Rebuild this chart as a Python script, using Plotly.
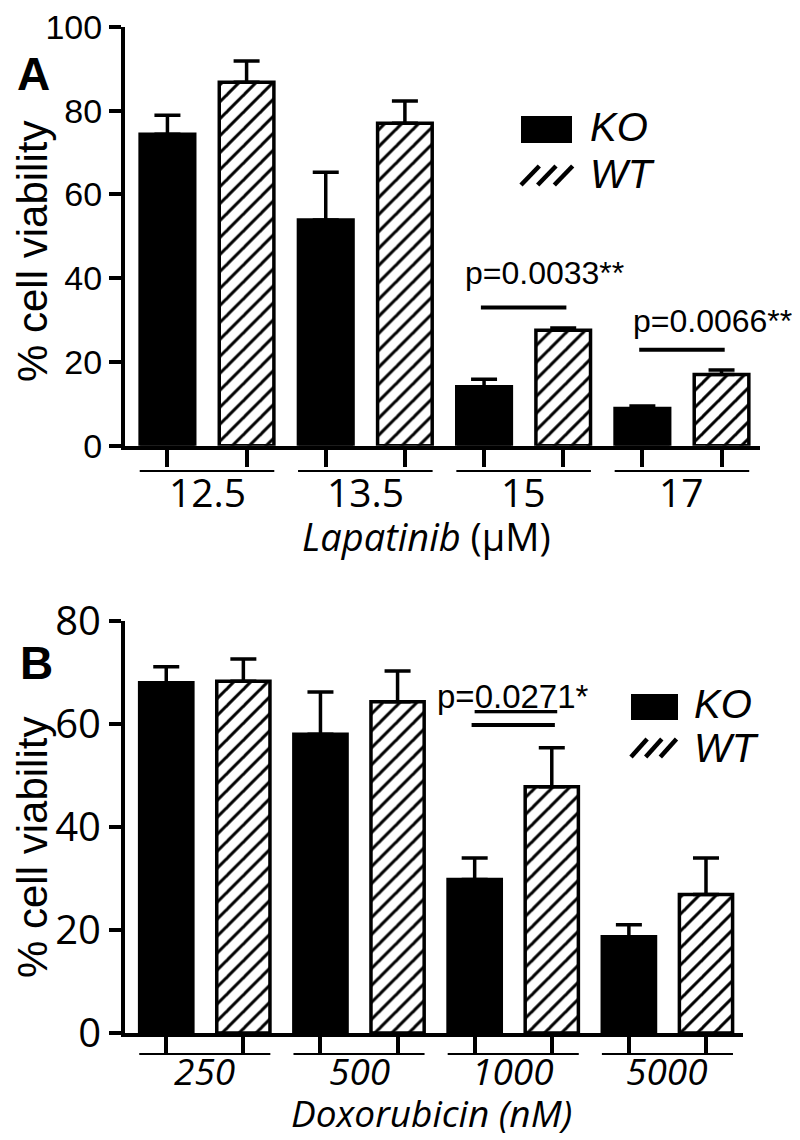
import plotly.graph_objects as go

# ---------------- data ----------------
lap_groups = ["12.5", "13.5", "15", "17"]
lap_ko = [74.4, 53.9, 14.1, 8.9]
lap_ko_err = [4.5, 11.4, 1.8, 0.6]
lap_wt = [86.8, 77.0, 27.6, 17.0]
lap_wt_err = [5.1, 5.3, 0.5, 1.1]

dox_groups = ["250", "500", "1000", "5000"]
dox_ko = [68.0, 58.0, 29.8, 18.7]
dox_ko_err = [3.1, 8.2, 4.2, 2.3]
dox_wt = [68.3, 64.3, 47.8, 26.9]
dox_wt_err = [4.3, 6.0, 7.6, 7.1]

series_names = ["KO", "WT"]

# p-value annotations: (group index, text, line height, text x offset, text height)
lap_pvals = [(2, "p=0.0033**", 33.0, 0.13, 41.3), (3, "p=0.0066**", 22.9, 0.19, 29.8)]
dox_pvals = [(2, "p=<u>0.027</u>1*", 59.8, 0.0, 65.3)]

W, H = 800, 1140


def px(x):
    return x / W


def py(y):
    return 1 - y / H


fig = go.Figure()

BAR_OFF = 0.25


def add_panel(n, groups, ko, koe, wt, wte):
    xa = "x" if n == 1 else f"x{n}"
    ya = "y" if n == 1 else f"y{n}"
    idx = list(range(len(groups)))
    fig.add_trace(go.Bar(
        x=idx, y=ko, name=series_names[0], xaxis=xa, yaxis=ya, showlegend=False,
        offsetgroup="ko",
        marker=dict(color="black", line=dict(color="black", width=3.5)),
        error_y=dict(type="data", array=koe, arrayminus=[0] * len(koe), symmetric=False,
                     color="black", thickness=3.5, width=13),
    ))
    fig.add_trace(go.Bar(
        x=idx, y=wt, name=series_names[1], xaxis=xa, yaxis=ya, showlegend=False,
        offsetgroup="wt",
        marker=dict(color="white", line=dict(color="black", width=3.5),
                    pattern=dict(shape="/", fgcolor="black", bgcolor="white",
                                 size=12, solidity=0.25, fillmode="replace")),
        error_y=dict(type="data", array=wte, arrayminus=[0] * len(wte), symmetric=False,
                     color="black", thickness=3.5, width=13),
    ))
    return idx


idx1 = add_panel(1, lap_groups, lap_ko, lap_ko_err, lap_wt, lap_wt_err)
idx2 = add_panel(2, dox_groups, dox_ko, dox_ko_err, dox_wt, dox_wt_err)

common_x = dict(showline=True, linewidth=4, linecolor="black", ticks="outside",
                tickwidth=4, tickcolor="black", showticklabels=False,
                showgrid=False, zeroline=False, automargin=False)
common_y = dict(showline=True, linewidth=4, linecolor="black", ticks="outside",
                ticklen=12, tickwidth=3.5, tickcolor="black", ticklabeloverflow="allow",
                showgrid=False, zeroline=False, automargin=False)

fig.update_layout(
    template="none",
    width=W, height=H, margin=dict(l=0, r=0, t=0, b=0, autoexpand=False),
    paper_bgcolor="white", plot_bgcolor="white",
    barmode="group", bargap=0, bargroupgap=0.31,
    xaxis=dict(domain=[px(117), px(752)], range=[-0.518, 3.493], anchor="y",
               tickvals=[i + d for i in idx1 for d in (-BAR_OFF, BAR_OFF)], ticklen=17, **common_x),
    yaxis=dict(domain=[py(437.7), py(19)], range=[0, 100], anchor="x",
               tickvals=[0, 20, 40, 60, 80, 100],
               tickfont=dict(family="Liberation Sans", size=34, color="black"), **common_y),
    xaxis2=dict(domain=[px(117), px(735)], range=[-0.5175, 3.490], anchor="y2",
                tickvals=[i + d for i in idx2 for d in (-BAR_OFF, BAR_OFF)], ticklen=16, **common_x),
    yaxis2=dict(domain=[py(1025), py(613)], range=[0, 80], anchor="x2",
                tickvals=[0, 20, 40, 60, 80],
                tickfont=dict(family="Open Sans", size=40, color="black"), **common_y),
)

shapes = []
annotations = []

# group underlines and labels
for xref, groups, idx, yline, ylab, italic, fs in (
        ("x", lap_groups, idx1, 463, 483, False, 39),
        ("x2", dox_groups, idx2, 1046, 1062, True, 37)):
    for i, g in zip(idx, groups):
        shapes.append(dict(type="line", xref=xref, yref="paper", x0=i - 0.425, x1=i + 0.425,
                           y0=py(yline), y1=py(yline), line=dict(color="black", width=2)))
        annotations.append(dict(xref=xref, yref="paper", x=i, y=py(ylab), text=g, showarrow=False,
                                xanchor="center", yanchor="middle",
                                font=dict(family="Open Sans", size=fs, color="black",
                                          style="italic" if italic else "normal")))

# axis titles
annotations.append(dict(xref="paper", yref="paper", x=px(418), y=py(528),
                        text="<i>Lapatinib</i> (µM)", showarrow=False, xanchor="center", yanchor="middle",
                        font=dict(family="Open Sans", size=38, color="black")))
annotations.append(dict(xref="paper", yref="paper", x=px(423), y=py(1104),
                        text="<i>Doxorubicin (nM)</i>", showarrow=False, xanchor="center", yanchor="middle",
                        font=dict(family="Open Sans", size=37, color="black")))
for yc in (244, 840):
    annotations.append(dict(xref="paper", yref="paper", x=px(24), y=py(yc), text="% cell viability",
                            textangle=-90, showarrow=False, xanchor="center", yanchor="middle",
                            font=dict(family="Liberation Sans", size=42, color="black")))

# panel letters
for letter, xc, yc in (("A", 25, 66), ("B", 28, 655)):
    annotations.append(dict(xref="paper", yref="paper", x=px(xc), y=py(yc), text=f"<b>{letter}</b>",
                            showarrow=False, xanchor="center", yanchor="middle",
                            font=dict(family="Liberation Sans", size=46, color="black")))

# p-value bars and texts
for xref, yref, pvals, fsize in (("x", "y", lap_pvals, 32), ("x2", "y2", dox_pvals, 33)):
    for g, txt, yl, dx, yt in pvals:
        shapes.append(dict(type="line", xref=xref, yref=yref, x0=g - 0.27, x1=g + 0.27,
                           y0=yl, y1=yl, line=dict(color="black", width=4)))
        annotations.append(dict(xref=xref, yref=yref, x=g + dx, y=yt, text=txt, showarrow=False,
                                xanchor="center", yanchor="middle",
                                font=dict(family="Liberation Sans", size=fsize, color="black")))

# manual legends
for (kx0, ky0, kx1, ky1), (wx0, wy0, wx1, wy1), tx, kty, wty in (
        ((513, 108, 564, 135), (513, 158, 563, 177), 580, 119, 166),
        ((623, 686, 670, 712), (623, 731, 667, 749), 684, 696, 740)):
    shapes.append(dict(type="rect", xref="paper", yref="paper", x0=px(kx0), x1=px(kx1),
                       y0=py(ky1), y1=py(ky0), fillcolor="black", line=dict(width=0)))
    step = (wx1 - wx0) / 3.0
    for k in range(3):
        sx = wx0 + k * step
        shapes.append(dict(type="line", xref="paper", yref="paper",
                           x0=px(sx), y0=py(wy1), x1=px(sx + step * 1.1), y1=py(wy0),
                           line=dict(color="black", width=4.5)))
    for name, yc in zip(series_names, (kty, wty)):
        annotations.append(dict(xref="paper", yref="paper", x=px(tx), y=py(yc), text=f"<i>{name}</i>",
                                showarrow=False, xanchor="left", yanchor="middle",
                                font=dict(family="Liberation Sans", size=40, color="black")))

fig.update_layout(shapes=shapes, annotations=annotations)
fig.write_html("out.html")
